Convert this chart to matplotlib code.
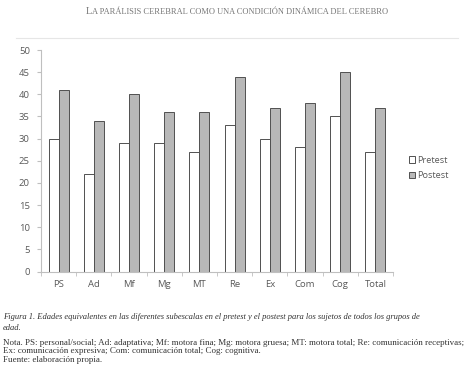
import matplotlib.pyplot as plt
import numpy as np

categories = ['PS', 'Ad', 'Mf', 'Mg', 'MT', 'Re', 'Ex', 'Com', 'Cog', 'Total']
pretest = [30, 22, 29, 29, 27, 33, 30, 28, 35, 27]
postest = [41, 34, 40, 36, 36, 44, 37, 38, 45, 37]
yticks = list(range(0, 51, 5))

sans = ['Open Sans', 'DejaVu Sans']
serif = ['Liberation Serif', 'DejaVu Serif']
txt_grey = '#595959'

fig = plt.figure(figsize=(4.7, 3.69), dpi=100)

# running header (fake small caps)
fig.text(86 / 470, 0.962, 'L', family=serif, fontsize=7.5, color='#777777', ha='left', va='baseline')
fig.text(91.5 / 470, 0.962, 'A PARÁLISIS CEREBRAL COMO UNA CONDICIÓN DINÁMICA DEL CEREBRO',
         family=serif, fontsize=6.05, color='#777777', ha='left', va='baseline')
fig.add_artist(plt.Line2D([16 / 470, 458 / 470], [1 - 38 / 369] * 2, color='#e6e6e6', lw=0.8))

ax = fig.add_axes([41 / 470, 1 - 271.5 / 369, (393 - 41) / 470, (271.5 - 50) / 369])
x = np.arange(len(categories))
w = 0.285
ax.bar(x - w / 2, pretest, w, color='white', edgecolor='#505050', lw=0.7, label='Pretest')
ax.bar(x + w / 2, postest, w, color='#b8b8b8', edgecolor='#505050', lw=0.7, label='Postest')

ax.set_xlim(-0.5, len(categories) - 0.5)
ax.set_ylim(0, 50)
ax.set_yticks(yticks)
ax.set_xticks(x)
ax.set_xticklabels(categories)
ax.set_xticks(np.arange(-0.5, len(categories)), minor=True)
ax.tick_params(axis='x', which='major', length=0, pad=6, labelsize=6.8, labelcolor=txt_grey)
ax.tick_params(axis='x', which='minor', length=3, color='#bfbfbf', direction='out')
ax.tick_params(axis='y', length=3, color='#bfbfbf', labelsize=6.8, labelcolor=txt_grey, pad=5)
for lab in ax.get_xticklabels() + ax.get_yticklabels():
    lab.set_family(sans)
for s in ['top', 'right']:
    ax.spines[s].set_visible(False)
for s in ['left', 'bottom']:
    ax.spines[s].set_color('#bfbfbf')
    ax.spines[s].set_linewidth(0.8)

fig.legend(loc='upper left', bbox_to_anchor=(404 / 470, 1 - 151 / 369), frameon=False,
           prop={'family': sans, 'size': 6.6}, labelcolor=txt_grey, handlelength=0.7,
           handleheight=0.7, handletextpad=0.25, labelspacing=0.75, borderpad=0)

cap = ('Figura 1. Edades equivalentes en las diferentes subescalas en el pretest y el postest '
       'para los sujetos de todos los grupos de\nedad.')
fig.text(3 / 470, 1 - 313 / 369, cap, family=serif, style='italic', fontsize=6.1,
         color='#333333', ha='left', va='top', linespacing=1.45)
nota = ('Nota. PS: personal/social; Ad: adaptativa; Mf: motora fina; Mg: motora gruesa; '
        'MT: motora total; Re: comunicación receptivas;\n'
        'Ex: comunicación expresiva; Com: comunicación total; Cog: cognitiva.\n'
        'Fuente: elaboración propia.')
fig.text(3 / 470, 1 - 339 / 369, nota, family=serif, fontsize=6.5, color='#333333',
         ha='left', va='top', linespacing=1.08)

fig.savefig('out.png', dpi=100)
